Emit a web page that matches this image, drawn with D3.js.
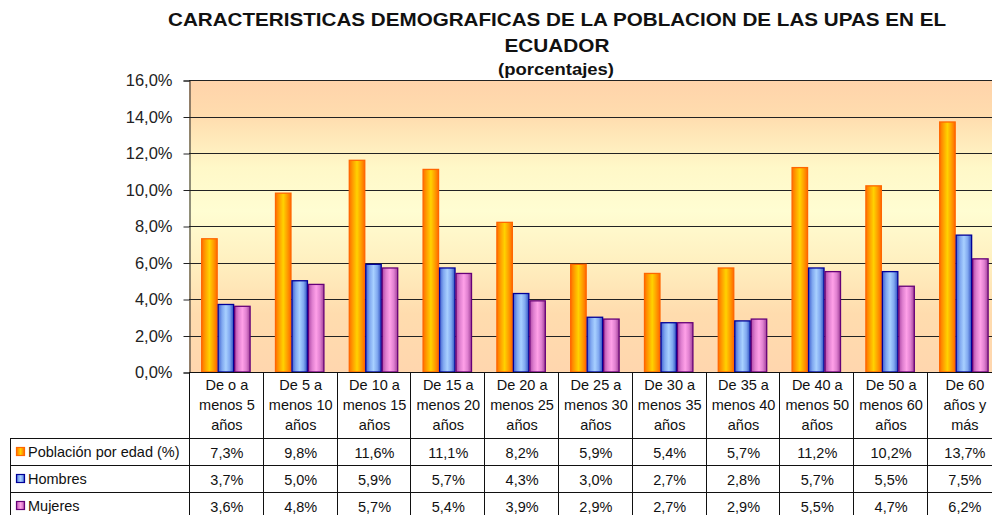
<!DOCTYPE html>
<html>
<head>
<meta charset="utf-8">
<script src="https://cdn.jsdelivr.net/npm/d3@7"></script>
<style>
  body { margin: 0; background: #fff; }
  svg { display: block; font-family: "Liberation Sans", Arial, sans-serif; }
</style>
</head>
<body>
<svg id="chart" width="992" height="515"></svg>
<script>
// données
const categories = [
  ["De o a", "menos 5", "años"],
  ["De 5 a", "menos 10", "años"],
  ["De 10 a", "menos 15", "años"],
  ["De 15 a", "menos 20", "años"],
  ["De 20 a", "menos 25", "años"],
  ["De 25 a", "menos 30", "años"],
  ["De 30 a", "menos 35", "años"],
  ["De 35 a", "menos 40", "años"],
  ["De 40 a", "menos 50", "años"],
  ["De 50 a", "menos 60", "años"],
  ["De 60", "años y", "más"]
];
const seriesNames = ["Población por edad (%)", "Hombres", "Mujeres"];
const poblacion = [7.3, 9.8, 11.6, 11.1, 8.2, 5.9, 5.4, 5.7, 11.2, 10.2, 13.7];
const hombres = [3.7, 5.0, 5.9, 5.7, 4.3, 3.0, 2.7, 2.8, 5.7, 5.5, 7.5];
const mujeres = [3.6, 4.8, 5.7, 5.4, 3.9, 2.9, 2.7, 2.9, 5.5, 4.7, 6.2];
const yTicks = [0, 2, 4, 6, 8, 10, 12, 14, 16];

const series = [poblacion, hombres, mujeres];
const fmt = (v) => v.toFixed(1).replace(".", ",") + "%";

const svg = d3.select("#chart");
const plotLeft = 189, colW = 73.8, plotTop = 80, plotBottom = 372;
const plotRight = plotLeft + colW * categories.length;

const x0 = d3.scaleBand().domain(d3.range(categories.length)).range([plotLeft, plotRight]);
const x1 = d3.scaleBand().domain(d3.range(3)).range([0, colW]).paddingOuter(0.74);
const y = d3.scaleLinear().domain([0, 16]).range([plotBottom, plotTop]);

// dégradés
const defs = svg.append("defs");
const bg = defs.append("linearGradient").attr("id", "bg").attr("x1", 0).attr("y1", 0).attr("x2", 0).attr("y2", 1);
[[0, "#ffd3aa"], [0.12, "#ffdcae"], [0.3, "#fff8c8"], [0.45, "#fffdd2"], [0.62, "#fff0c0"], [0.8, "#ffdcae"], [1, "#ffd6ae"]]
  .forEach(([o, c]) => bg.append("stop").attr("offset", o).attr("stop-color", c));

const barStyles = [
  { id: "gOr", stops: ["#ff7000", "#ffa200", "#ffd200", "#ffa000", "#ff6a00"], stroke: "#ff6600" },
  { id: "gBl", stops: ["#4060d0", "#80a8f0", "#a8d0ff", "#80a8f0", "#3050c0"], stroke: "#000099" },
  { id: "gPk", stops: ["#b04aa8", "#e080d0", "#ffa0e8", "#e080d0", "#a04098"], stroke: "#660077" }
];
barStyles.forEach((s) => {
  const g = defs.append("linearGradient").attr("id", s.id).attr("x1", 0).attr("x2", 1).attr("y1", 0).attr("y2", 0);
  s.stops.forEach((c, i) => g.append("stop").attr("offset", i / (s.stops.length - 1)).attr("stop-color", c));
});

// fond de la zone de tracé
svg.append("rect").attr("x", plotLeft).attr("y", plotTop).attr("width", plotRight - plotLeft).attr("height", plotBottom - plotTop)
  .attr("fill", "url(#bg)");

// lignes de grille
svg.append("g").selectAll("line").data(yTicks.slice(1)).join("line")
  .attr("x1", plotLeft).attr("x2", plotRight)
  .attr("y1", (d) => Math.round(y(d)) + 0.5).attr("y2", (d) => Math.round(y(d)) + 0.5)
  .attr("stroke", "#222").attr("stroke-width", 1);

// axe Y
const yAxis = d3.axisLeft(y).tickValues(yTicks).tickFormat(fmt).tickSize(6).tickPadding(11);
const ga = svg.append("g").attr("transform", `translate(${plotLeft + 0.5},0.5)`).call(yAxis);
ga.select(".domain").attr("stroke", "#222");
ga.selectAll(".tick line").attr("stroke", "#222");
ga.selectAll("text").attr("font-size", 16.5).attr("fill", "#222").attr("font-family", "'Liberation Sans', Arial, sans-serif");

// barres
const groups = svg.append("g").selectAll("g").data(categories).join("g")
  .attr("transform", (d, i) => `translate(${x0(i)},0)`);
groups.selectAll("rect").data((d, i) => series.map((s, k) => ({ k, v: s[i] }))).join("rect")
  .attr("x", (d) => x1(d.k) + 0.5)
  .attr("y", (d) => y(d.v))
  .attr("width", x1.bandwidth() - 1)
  .attr("height", (d) => plotBottom - y(d.v))
  .attr("fill", (d) => `url(#${barStyles[d.k].id})`)
  .attr("stroke", (d) => barStyles[d.k].stroke)
  .attr("stroke-width", 1.3);

// axe X (ligne de base)
svg.append("line").attr("x1", plotLeft).attr("x2", plotRight).attr("y1", plotBottom + 0.5).attr("y2", plotBottom + 0.5)
  .attr("stroke", "#111");

// tableau de données
const rowTops = [438, 465, 492, 519];
const tbl = svg.append("g").attr("stroke", "#111").attr("stroke-width", 1);
d3.range(categories.length + 1).forEach((i) => {
  const xx = Math.round(plotLeft + i * colW) + 0.5;
  tbl.append("line").attr("x1", xx).attr("x2", xx).attr("y1", plotBottom).attr("y2", 515);
});
rowTops.forEach((ry) => {
  tbl.append("line").attr("x1", 10).attr("x2", plotRight).attr("y1", ry + 0.5).attr("y2", ry + 0.5);
});
tbl.append("line").attr("x1", 10.5).attr("x2", 10.5).attr("y1", rowTops[0]).attr("y2", 515);

// en-têtes des catégories
const head = svg.append("g").attr("font-size", 14.5).attr("fill", "#111").attr("text-anchor", "middle");
categories.forEach((lines, i) => {
  lines.forEach((t, j) => {
    head.append("text").attr("x", x0(i) + colW / 2 + 1).attr("y", 390 + j * 20).text(t);
  });
});

// valeurs
series.forEach((s, k) => {
  const ry = rowTops[k];
  svg.append("g").attr("font-size", 14.5).attr("fill", "#111").attr("text-anchor", "middle")
    .selectAll("text").data(s).join("text")
    .attr("x", (d, i) => x0(i) + colW / 2 + 1)
    .attr("y", ry + 20)
    .text(fmt);
  // légende
  svg.append("rect").attr("x", 16.5).attr("y", ry + 9.5).attr("width", 8).attr("height", 8)
    .attr("fill", `url(#${barStyles[k].id})`).attr("stroke", barStyles[k].stroke).attr("stroke-width", 1.2);
  svg.append("text").attr("x", 28).attr("y", ry + 19).attr("font-size", 14.5).attr("fill", "#111")
    .text(seriesNames[k]);
});

// titre
const title = svg.append("g").attr("font-weight", "bold").attr("fill", "#111").attr("text-anchor", "middle");
title.append("text").attr("x", 557).attr("y", 26).attr("font-size", 18)
  .attr("textLength", 778).attr("lengthAdjust", "spacingAndGlyphs")
  .text("CARACTERISTICAS DEMOGRAFICAS DE LA POBLACION DE LAS UPAS EN EL");
title.append("text").attr("x", 557).attr("y", 52).attr("font-size", 18)
  .attr("textLength", 105).attr("lengthAdjust", "spacingAndGlyphs")
  .text("ECUADOR");
title.append("text").attr("x", 556).attr("y", 75).attr("font-size", 16)
  .attr("textLength", 116).attr("lengthAdjust", "spacingAndGlyphs")
  .text("(porcentajes)");
</script>
</body>
</html>
